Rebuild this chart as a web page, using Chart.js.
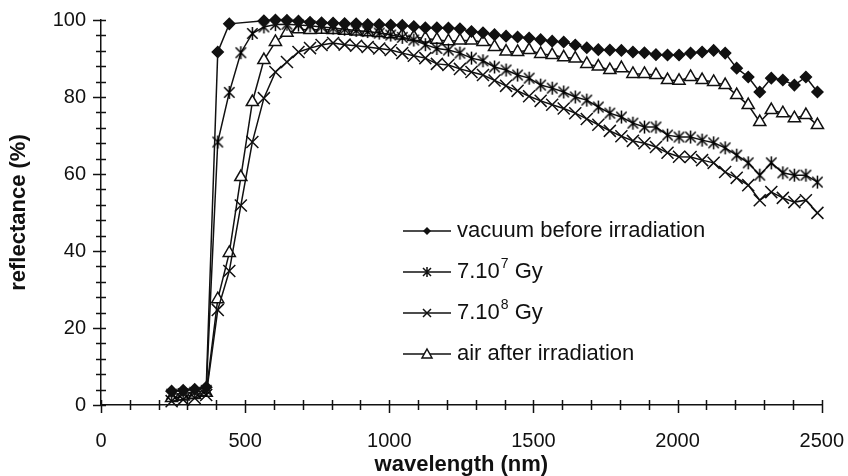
<!DOCTYPE html>
<html lang="en">
<head>
<meta charset="UTF-8">
<title>Reflectance</title>
<script src="https://cdn.jsdelivr.net/npm/chart.js"></script>
<style>
  body { margin: 0; background: #fff; }
  canvas { display: block; }
</style>
</head>
<body>
<canvas id="reflChart" width="848" height="476"></canvas>
<script>
// wavelength of each measured point (nm)
const wavelength = [245, 285, 325, 365, 405, 445, 485, 525, 565, 605, 645, 685, 725, 765, 805, 845, 885, 925, 965,
  1005, 1045, 1085, 1125, 1165, 1205, 1245, 1285, 1325, 1365, 1405, 1445, 1485, 1525, 1565, 1605, 1645, 1685, 1725,
  1765, 1805, 1845, 1885, 1925, 1965, 2005, 2045, 2085, 2125, 2165, 2205, 2245, 2285, 2325, 2365, 2405, 2445, 2485];

// reflectance (%) - null where the curve runs off the top of the plot
const vacuumBefore = [3.6, 3.8, 4.1, 4.6, 91.7, 99.0, null, null,
  99.8, 100, 99.9, 99.7, 99.4, 99.3, 99.2, 99.1, 99.0, 98.8,
  98.8, 98.7, 98.6, 98.3, 98.0, 98.0, 97.9, 97.7, 97.0, 96.7,
  96.2, 95.8, 95.6, 95.3, 94.9, 94.5, 94.3, 93.5, 92.8, 92.3,
  92.2, 92.1, 91.7, 91.5, 91.0, 90.9, 90.9, 91.4, 91.7, 92.1,
  91.4, 87.5, 85.2, 81.3, 84.9, 84.4, 83.1, 85.2, 81.3];
const dose7e7 = [2.8, 3.0, 3.3, 3.8, 68.3, 81.2, 91.5, 96.5, 98.2, 98.8,
  98.9, 98.7, 98.5, 98.2, 97.9, 97.6, 97.3, 97.0,
  96.6, 96.1, 95.5, 94.8, 93.6, 92.6, 92.2, 91.4, 90.1, 89.4,
  87.8, 87.0, 85.7, 84.9, 83.1, 82.3, 81.3, 80.0, 79.2, 77.4,
  75.8, 74.8, 73.2, 72.2, 72.2, 70.1, 69.6, 69.6, 68.8, 68.1,
  66.8, 64.9, 62.9, 59.7, 62.9, 60.3, 59.7, 59.7, 57.9];
const dose7e8 = [1.0, 1.4, 1.8, 2.6, 24.7, 34.8, 51.8, 68.3, 79.7, 86.5,
  89.1, 91.7, 92.7, 93.5, 94.0, 93.6, 93.3, 93.0,
  92.6, 92.2, 91.4, 90.7, 90.1, 88.6, 88.3, 87.3, 86.5, 85.7,
  84.3, 82.9, 81.6, 80.2, 79.0, 78.0, 77.0, 75.8, 74.3, 72.8,
  71.2, 69.8, 68.6, 68.0, 67.0, 65.5, 64.5, 64.4, 63.6, 62.9,
  60.5, 59.0, 57.1, 53.2, 55.3, 53.8, 52.7, 53.2, 49.9];
const airAfter = [1.8, 2.2, 2.6, 3.2, 27.5, 39.5, 59.2, 78.7, 89.6, 94.3,
  96.7, 97.6, 97.4, 97.5, 97.4, 97.2, 97.0, 96.8,
  96.6, 96.3, 96.0, 95.6, 95.2, 94.9, 94.5, 94.7, 94.7, 94.3,
  93.0, 91.8, 91.7, 92.2, 91.2, 90.9, 90.3, 90.0, 88.6, 87.9,
  87.0, 87.5, 86.0, 86.0, 85.7, 84.4, 84.2, 85.2, 84.4, 83.9,
  83.1, 80.5, 77.9, 73.5, 76.6, 75.8, 74.5, 75.3, 72.7];

const seriesLabels = ['vacuum before irradiation', '7.10^7 Gy', '7.10^8 Gy', 'air after irradiation'];
const xMajor = 500, xMinor = 100;
const yMajor = 20, yMinor = 4;

const FONT = "'Liberation Sans', Arial, sans-serif";

// asterisk marker: vertical bar plus an X
function asterisk(size) {
  const c = document.createElement('canvas');
  c.width = size; c.height = size;
  const g = c.getContext('2d');
  const m = size / 2, r = size / 2 - 1;
  g.strokeStyle = '#000';
  g.lineWidth = 1.5;
  g.beginPath();
  g.moveTo(m, m - r); g.lineTo(m, m + r);
  g.moveTo(m - r * 0.8, m - r * 0.8); g.lineTo(m + r * 0.8, m + r * 0.8);
  g.moveTo(m + r * 0.8, m - r * 0.8); g.lineTo(m - r * 0.8, m + r * 0.8);
  g.stroke();
  return c;
}

const toPoints = arr => wavelength.map((w, i) => ({ x: w, y: arr[i] }));

function series(label, values, style, radius, fill) {
  return {
    label: label,
    data: toPoints(values),
    borderColor: '#111',
    backgroundColor: fill,
    borderWidth: 1.5,
    pointStyle: style,
    pointRadius: radius,
    pointBorderWidth: 1.5,
    pointBorderColor: '#111',
    pointBackgroundColor: fill,
    tension: 0,
    spanGaps: true,
    clip: 8
  };
}

const datasets = [
  series(seriesLabels[0], vacuumBefore, 'rectRot', 5.5, '#111'),
  series(seriesLabels[1], dose7e7, asterisk(15), 7, '#111'),
  series(seriesLabels[2], dose7e8, 'crossRot', 8.5, '#111'),
  series(seriesLabels[3], airAfter, 'triangle', 7, '#fff')
];

// tick marks that cross the axis lines, longer at the labelled values
const crossTicks = {
  id: 'crossTicks',
  afterDraw(chart) {
    const { ctx, chartArea: a, scales: { x, y } } = chart;
    ctx.save();
    ctx.strokeStyle = '#111';
    ctx.lineWidth = 1.5;
    ctx.beginPath();
    x.ticks.forEach(t => {
      const px = Math.round(x.getPixelForValue(t.value)) + 0.5;
      const major = t.value % xMajor === 0;
      ctx.moveTo(px, a.bottom - 5);
      ctx.lineTo(px, a.bottom + (major ? 8 : 5));
    });
    y.ticks.forEach(t => {
      const py = Math.round(y.getPixelForValue(t.value)) + 0.5;
      const major = t.value % yMajor === 0;
      ctx.moveTo(a.left - (major ? 8 : 5), py);
      ctx.lineTo(a.left + 5, py);
    });
    ctx.stroke();
    ctx.restore();
  }
};

// legend inside the plot, with superscripts
const innerLegend = {
  id: 'innerLegend',
  afterDraw(chart) {
    const ctx = chart.ctx;
    const x0 = 403, x1 = 451, tx = 457, top = 231, gap = 41;
    const marks = ['diamond', 'asterisk', 'cross', 'triangle'];
    ctx.save();
    chart.data.datasets.forEach((ds, i) => {
      const yy = top + i * gap;
      ctx.strokeStyle = '#111';
      ctx.fillStyle = '#111';
      ctx.lineWidth = 1.5;
      ctx.beginPath();
      ctx.moveTo(x0, yy); ctx.lineTo(x1, yy);
      ctx.stroke();
      const cx = (x0 + x1) / 2;
      ctx.beginPath();
      if (marks[i] === 'diamond') {
        ctx.moveTo(cx, yy - 4); ctx.lineTo(cx + 4, yy); ctx.lineTo(cx, yy + 4); ctx.lineTo(cx - 4, yy);
        ctx.closePath(); ctx.fill();
      } else if (marks[i] === 'asterisk') {
        ctx.moveTo(cx, yy - 5); ctx.lineTo(cx, yy + 5);
        ctx.moveTo(cx - 4, yy - 4); ctx.lineTo(cx + 4, yy + 4);
        ctx.moveTo(cx + 4, yy - 4); ctx.lineTo(cx - 4, yy + 4);
        ctx.stroke();
      } else if (marks[i] === 'cross') {
        ctx.moveTo(cx - 4, yy - 4); ctx.lineTo(cx + 4, yy + 4);
        ctx.moveTo(cx + 4, yy - 4); ctx.lineTo(cx - 4, yy + 4);
        ctx.stroke();
      } else {
        ctx.moveTo(cx, yy - 5); ctx.lineTo(cx + 5, yy + 4); ctx.lineTo(cx - 5, yy + 4);
        ctx.closePath();
        ctx.fillStyle = '#fff'; ctx.fill(); ctx.stroke();
        ctx.fillStyle = '#111';
      }
      // text, "^n" becomes a superscript
      ctx.textBaseline = 'middle';
      ctx.textAlign = 'left';
      let px = tx;
      ds.label.split(/(\^\d+)/).forEach(part => {
        if (!part) return;
        if (part[0] === '^') {
          ctx.font = '14px ' + FONT;
          ctx.fillText(part.slice(1), px + 1, yy - 8);
          px += ctx.measureText(part.slice(1)).width + 1;
        } else {
          ctx.font = '22px ' + FONT;
          ctx.fillText(part, px, yy);
          px += ctx.measureText(part).width;
        }
      });
    });
    ctx.restore();
  }
};

// invisible tick marks only reserve room between axis line and labels
const hiddenGrid = len => ({
  display: true,
  drawOnChartArea: false,
  drawTicks: true,
  tickLength: len,
  color: 'rgba(0,0,0,0)',
  tickColor: 'rgba(0,0,0,0)'
});

new Chart(document.getElementById('reflChart'), {
  type: 'line',
  data: { datasets: datasets },
  options: {
    responsive: false,
    animation: false,
    layout: { padding: { top: 20, right: 0, left: 0, bottom: 0 } },
    plugins: { legend: { display: false }, tooltip: { enabled: false } },
    scales: {
      x: {
        type: 'linear',
        min: 0, max: 2500,
        grid: hiddenGrid(20),
        border: { display: true, color: '#111', width: 1.5 },
        ticks: {
          stepSize: xMinor,
          autoSkip: false,
          maxRotation: 0,
          padding: 4,
          color: '#111',
          font: { family: FONT, size: 20 },
          callback: v => (v % xMajor === 0 ? String(v) : '')
        },
        title: {
          display: true,
          text: 'wavelength (nm)',
          color: '#111',
          font: { family: FONT, size: 22, weight: 'bold', lineHeight: 1 },
          padding: { top: 0, bottom: 0 }
        },
        afterFit: s => { s.height = 71; }
      },
      y: {
        min: 0, max: 100,
        grid: hiddenGrid(13),
        border: { display: true, color: '#111', width: 1.5 },
        ticks: {
          stepSize: yMinor,
          autoSkip: false,
          padding: 2,
          color: '#111',
          font: { family: FONT, size: 20 },
          callback: v => (v % yMajor === 0 ? String(v) : '')
        },
        title: {
          display: true,
          text: 'reflectance (%)',
          color: '#111',
          font: { family: FONT, size: 22, weight: 'bold', lineHeight: 1 },
          padding: { top: 8, bottom: 0 }
        },
        afterFit: s => { s.width = 101; }
      }
    }
  },
  plugins: [crossTicks, innerLegend]
});
</script>
</body>
</html>
